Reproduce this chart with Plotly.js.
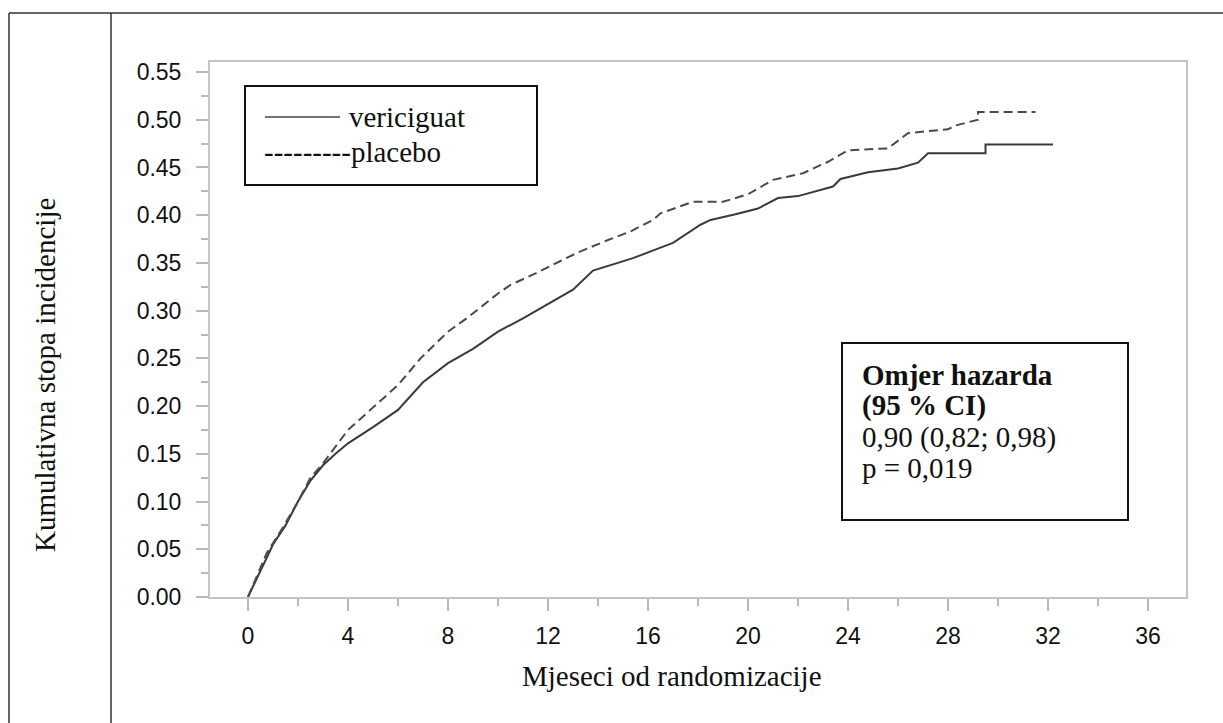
<!DOCTYPE html>
<html>
<head>
<meta charset="utf-8">
<script src="https://cdn.plot.ly/plotly-3.0.1.min.js"></script>
<style>
html,body{margin:0;padding:0;background:#fff;}
#chart{width:1223px;height:723px;}
</style>
</head>
<body>
<div id="chart"></div>
<script>
// Months since randomisation and cumulative incidence
const vericiguatMonths = [0, 0.5, 1, 1.5, 2, 2.5, 3, 3.5, 4, 5, 6, 7, 8, 9, 10, 11, 12, 13, 13.8, 14.5, 15.4, 16.5, 17, 18.1, 18.5, 19.5, 20.4, 21.2, 22, 23.4, 23.7, 24.8, 26, 26.8, 27.2, 29.5, 29.5, 32.2];
const vericiguatRate   = [0, 0.028, 0.055, 0.075, 0.100, 0.122, 0.138, 0.150, 0.161, 0.178, 0.196, 0.225, 0.245, 0.260, 0.278, 0.292, 0.307, 0.322, 0.342, 0.348, 0.355, 0.366, 0.371, 0.390, 0.395, 0.401, 0.407, 0.418, 0.420, 0.430, 0.438, 0.445, 0.449, 0.455, 0.465, 0.465, 0.474, 0.474];

const placeboMonths = [0, 0.75, 1.4, 2, 2.5, 3, 4, 5, 6, 6.9, 8, 8.8, 10, 10.5, 11.5, 12.5, 13.2, 14.4, 15.3, 16.2, 16.5, 17.8, 19, 20, 21, 22.2, 23.2, 24, 25.6, 26.4, 28, 28.3, 29.2, 29.2, 31.5];
const placeboRate   = [0, 0.046, 0.073, 0.100, 0.125, 0.140, 0.175, 0.198, 0.222, 0.250, 0.278, 0.293, 0.318, 0.327, 0.339, 0.352, 0.361, 0.374, 0.383, 0.395, 0.402, 0.414, 0.414, 0.422, 0.437, 0.444, 0.456, 0.468, 0.470, 0.486, 0.490, 0.494, 0.500, 0.508, 0.508];

const seriesNames = ["vericiguat", "placebo"];
const xTitle = "Mjeseci od randomizacije";
const yTitle = "Kumulativna stopa incidencije";
const hrLines = ["<b>Omjer hazarda</b>", "<b>(95 % CI)</b>", "0,90 (0,82; 0,98)", "p = 0,019"];

const serif = "Liberation Serif, Times New Roman, serif";
const sans = "Liberation Sans, Arial, sans-serif";
const tickGray = "#b8b8b8";
const textSize = 29;

const traces = [
  {x: vericiguatMonths, y: vericiguatRate, name: seriesNames[0], type: "scatter", mode: "lines",
   line: {color: "#3a3a3a", width: 2}},
  {x: placeboMonths, y: placeboRate, name: seriesNames[1], type: "scatter", mode: "lines",
   line: {color: "#4a4a4a", width: 2, dash: "9px,5px"}}
];

// paper coords helpers: plot area l=210,t=62,w=976,h=535
const px = v => (v - 210) / 976;
const py = v => (597 - v) / 535;

const shapes = [
  // outer frame
  {type: "line", xref: "paper", yref: "paper", x0: px(9), x1: px(1223), y0: py(13), y1: py(13), line: {color: "#333", width: 1.5}},
  {type: "line", xref: "paper", yref: "paper", x0: px(9), x1: px(9), y0: py(13), y1: py(723), line: {color: "#333", width: 1.5}},
  {type: "line", xref: "paper", yref: "paper", x0: px(111), x1: px(111), y0: py(13), y1: py(723), line: {color: "#333", width: 1.5}},
  // legend box
  {type: "rect", xref: "paper", yref: "paper", x0: px(245), x1: px(537), y0: py(185), y1: py(86), line: {color: "#111", width: 2}, fillcolor: "rgba(255,255,255,0)"},
  {type: "line", xref: "paper", yref: "paper", x0: px(265), x1: px(340), y0: py(117), y1: py(117), line: {color: "#444", width: 1.5}},
  // hazard ratio box
  {type: "rect", xref: "paper", yref: "paper", x0: px(842), x1: px(1128), y0: py(520), y1: py(343), line: {color: "#111", width: 2}, fillcolor: "rgba(255,255,255,0)"}
];

const annotations = [
  {xref: "paper", yref: "paper", x: px(347), y: py(117), xanchor: "left", yanchor: "middle", showarrow: false,
   text: seriesNames[0], font: {family: serif, size: textSize, color: "#111"}},
  {xref: "paper", yref: "paper", x: px(262), y: py(152), xanchor: "left", yanchor: "middle", showarrow: false,
   text: "---------" + seriesNames[1], font: {family: serif, size: textSize, color: "#111"}},
  // axis titles
  {xref: "paper", yref: "paper", x: px(672), y: py(676), xanchor: "center", yanchor: "middle", showarrow: false,
   text: xTitle, font: {family: serif, size: textSize, color: "#111"}},
  {xref: "paper", yref: "paper", x: px(45), y: py(375), xanchor: "center", yanchor: "middle", showarrow: false,
   textangle: -90, text: yTitle, font: {family: serif, size: textSize, color: "#111"}}
];
const hrY = [375, 406, 437, 468];
hrLines.forEach((t, i) => annotations.push({
  xref: "paper", yref: "paper", x: px(860), y: py(hrY[i]), xanchor: "left", yanchor: "middle", showarrow: false,
  text: t, font: {family: serif, size: textSize, color: "#111"}
}));

const layout = {
  width: 1223, height: 723,
  margin: {l: 210, r: 37, t: 62, b: 126},
  paper_bgcolor: "#fff", plot_bgcolor: "#fff",
  showlegend: false,
  xaxis: {
    range: [-1.52, 37.52], tick0: 0, dtick: 4, showgrid: false, zeroline: false,
    showline: true, mirror: true, linecolor: "#c4c4c4", linewidth: 2,
    ticks: "outside", ticklen: 12, tickwidth: 2, tickcolor: tickGray,
    minor: {dtick: 2, tick0: 0, ticks: "outside", ticklen: 7, tickwidth: 2, tickcolor: tickGray},
    tickfont: {family: sans, size: 23, color: "#111"},
    ticklabelstandoff: 5,
    automargin: false
  },
  yaxis: {
    range: [0, 0.5605], tick0: 0, dtick: 0.05, tickformat: ".2f", showgrid: false, zeroline: false,
    showline: true, mirror: true, linecolor: "#c4c4c4", linewidth: 2,
    ticks: "outside", ticklen: 12, tickwidth: 2, tickcolor: tickGray,
    minor: {dtick: 0.025, tick0: 0, ticks: "outside", ticklen: 7, tickwidth: 2, tickcolor: tickGray},
    tickfont: {family: sans, size: 23, color: "#111"},
    ticklabelstandoff: 10,
    automargin: false
  },
  shapes: shapes,
  annotations: annotations
};

Plotly.newPlot("chart", traces, layout, {displayModeBar: false, staticPlot: true});
</script>
</body>
</html>
